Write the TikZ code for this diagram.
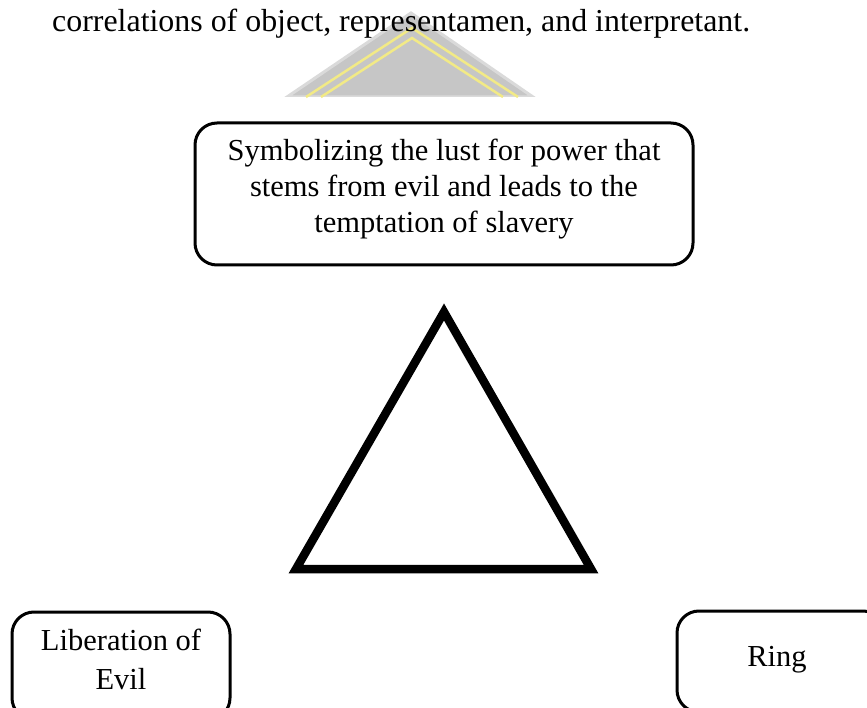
\documentclass[tikz,border=0pt]{standalone}
\usepackage{fontspec}
\setmainfont{Liberation Serif}
\definecolor{wmgray}{HTML}{C6C6C6}
\definecolor{wmedge}{HTML}{DADADA}
\definecolor{wmyellow}{HTML}{F2EA86}
\tikzset{
  boxframe/.style={draw=black, line width=3pt, rounded corners=22pt, fill=none},
  boxtext/.style={inner sep=0pt, align=center, font=\fontsize{30.5}{36}\selectfont},
  headtext/.style={inner sep=0pt, font=\fontsize{31.9}{36}\selectfont},
}
\begin{document}
\begin{tikzpicture}[x=1pt,y=-1pt]
\useasboundingbox (0,0) rectangle (867,708);
\clip (0,0) rectangle (867,708);
% watermark
\coordinate (wa) at (411,13);
\coordinate (wl) at (287,97);
\coordinate (wr) at (533,97);
\fill[wmgray, draw=wmedge, line width=3pt] (wl) -- (wa) -- (wr) -- cycle;
\fill[white] (270,97) rectangle (560,110);
\coordinate (y1a) at (412,28);
\coordinate (y1l) at (306,97);
\coordinate (y1r) at (518,97);
\coordinate (y2a) at (412,38);
\coordinate (y2l) at (321,97);
\coordinate (y2r) at (503,97);
\draw[wmyellow, line width=2.5pt] (y1l) -- (y1a) -- (y1r);
\draw[wmyellow, line width=2.5pt] (y2l) -- (y2a) -- (y2r);
% header
\node[headtext, anchor=base west] (head) at (52,32) {correlations of object, representamen, and interpretant.};
% top box
\draw[boxframe] (195,123) rectangle (693,265);
\node[boxtext, anchor=north] (toptext) at (444,138.5) {Symbolizing the lust for power that\\stems from evil and leads to the\\temptation of slavery};
% triangle
\coordinate (ta) at (444,312);
\coordinate (tl) at (296,569);
\coordinate (tr) at (591,569);
\draw[line width=8.5pt, line join=miter] (ta) -- (tl) -- (tr) -- cycle;
% bottom left box
\draw[boxframe] (12,612) rectangle (230,720);
\node[boxtext, anchor=north, font=\fontsize{30.5}{39}\selectfont] (lefttext) at (121,628.5) {Liberation of\\Evil};
% bottom right box
\draw[boxframe] (677,611) rectangle (885,712);
\node[boxtext, anchor=base] (ring) at (777,666) {Ring};
\end{tikzpicture}
\end{document}
